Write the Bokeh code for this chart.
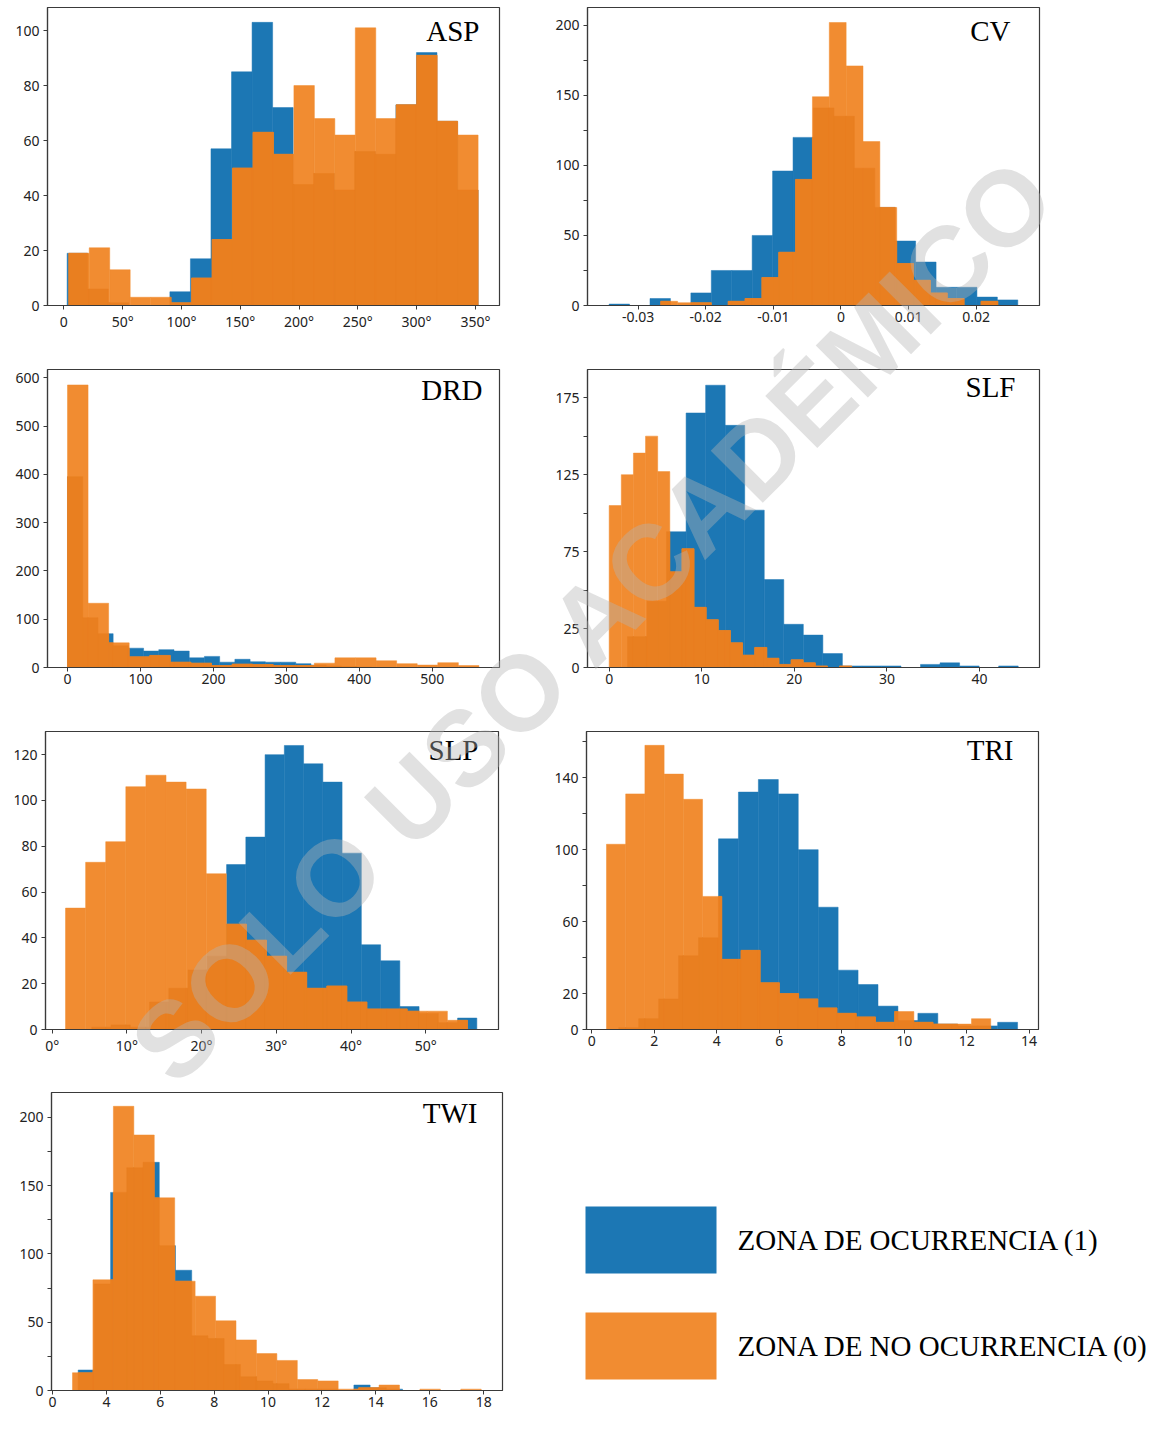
import numpy as np
from bokeh.plotting import figure
from bokeh.models import Range1d, FixedTicker, Label, GridBox
from bokeh.core.properties import value
from bokeh.embed import file_html
from bokeh.resources import INLINE

# ---------------- data (counts per bin) ----------------
PANEL_NAMES = ["ASP", "CV", "DRD", "SLF", "SLP", "TRI", "TWI"]
LEGEND_LABELS = ["ZONA DE OCURRENCIA (1)", "ZONA DE NO OCURRENCIA (0)"]
WATERMARK = "SOLO USO ACADÉMICO"

asp_blue = [19, 6, 1, 0, 0, 5, 17, 57, 85, 103, 72, 44, 48, 42, 56, 55, 73, 92, 67, 42]
asp_orange = [19, 21, 13, 3, 3, 1, 10, 24, 50, 63, 55, 80, 68, 62, 101, 68, 73, 91, 67, 62]
asp_blue_range = (2.8, 352.3)
asp_orange_range = (4.2, 352.3)

cv_blue = [1, 0, 5, 0, 9, 25, 25, 50, 96, 120, 141, 135, 98, 70, 46, 31, 13, 13, 6, 4]
cv_orange = [3, 2, 2, 0, 3, 5, 20, 38, 90, 149, 202, 171, 117, 70, 30, 18, 9, 5, 0, 3]
cv_blue_range = (-0.03428, 0.02616)
cv_orange_range = (-0.02665, 0.02321)

drd_blue = [395, 103, 70, 45, 40, 34, 37, 34, 20, 23, 11, 17, 12, 11, 11, 8, 5, 3, 2, 1]
drd_orange = [585, 133, 51, 22, 25, 11, 9, 4, 7, 6, 4, 4, 9, 20, 20, 14, 8, 5, 10, 4]
drd_blue_range = (0.0, 417.2)
drd_orange_range = (0.0, 564.0)

slf_blue = [20, 43, 88, 165, 183, 157, 102, 57, 28, 21, 9, 1, 1, 1, 0, 2, 3, 1, 0, 1]
slf_orange = [105, 125, 139, 150, 127, 62, 77, 39, 31, 24, 16, 8, 13, 6, 2, 5, 3, 1, 0, 1]
slf_blue_range = (1.98, 44.17)
slf_orange_range = (0.0, 26.19)

slp_blue = [1, 2, 1, 12, 18, 26, 32, 72, 84, 120, 124, 116, 108, 77, 37, 30, 10, 7, 3, 5]
slp_orange = [53, 73, 82, 106, 111, 108, 105, 68, 46, 39, 32, 25, 18, 19, 12, 9, 9, 8, 8, 4]
slp_blue_range = (5.31, 56.83)
slp_orange_range = (1.79, 55.58)

tri_blue = [1, 6, 17, 41, 51, 106, 132, 139, 131, 100, 68, 33, 25, 13, 5, 9, 3, 2, 2, 4]
tri_orange = [103, 131, 158, 142, 128, 74, 39, 44, 26, 20, 17, 12, 9, 7, 4, 10, 4, 3, 3, 6]
tri_blue_range = (0.864, 13.63)
tri_orange_range = (0.47, 12.77)

twi_blue = [15, 78, 145, 163, 167, 106, 88, 40, 38, 19, 10, 7, 5, 1, 1, 1, 0, 4, 2, 1]
twi_orange = [13, 81, 208, 187, 141, 80, 69, 51, 37, 27, 22, 8, 7, 1, 2, 4, 0, 1, 0, 1]
twi_blue_range = (2.95, 14.99)
twi_orange_range = (2.74, 17.91)

# tick values and labels
asp_xticks = [0, 50, 100, 150, 200, 250, 300, 350]
asp_xlabels = ["0", "50°", "100°", "150°", "200°", "250°", "300°", "350°"]
asp_yticks = [0, 20, 40, 60, 80, 100]

cv_xticks = [-0.03, -0.02, -0.01, 0, 0.01, 0.02]
cv_xlabels = ["-0.03", "-0.02", "-0.01", "0", "0.01", "0.02"]
cv_yticks = [0, 50, 100, 150, 200]
cv_yminor = [25, 75, 125, 175]

drd_xticks = [0, 100, 200, 300, 400, 500]
drd_xlabels = ["0", "100", "200", "300", "400", "500"]
drd_yticks = [0, 100, 200, 300, 400, 500, 600]

slf_xticks = [0, 10, 20, 30, 40]
slf_xlabels = ["0", "10", "20", "30", "40"]
slf_yticks = [0, 25, 75, 125, 175]
slf_yminor = [50, 100, 150]

slp_xticks = [0, 10, 20, 30, 40, 50]
slp_xlabels = ["0°", "10°", "20°", "30°", "40°", "50°"]
slp_yticks = [0, 20, 40, 60, 80, 100, 120]

tri_xticks = [0, 2, 4, 6, 8, 10, 12, 14]
tri_xlabels = ["0", "2", "4", "6", "8", "10", "12", "14"]
tri_yticks = [0, 20, 60, 100, 140]
tri_yminor = [40, 80, 120, 160]

twi_xticks = [2, 4, 6, 8, 10, 12, 14, 16, 18]
twi_xlabels = ["0", "4", "6", "8", "10", "12", "14", "16", "18"]
twi_yticks = [0, 50, 100, 150, 200]
twi_yminor = [25, 75, 125, 175]

# ---------------- styling / layout ----------------
BLUE = "#1c77b4"
ORANGE = "#f18c31"
ORANGE_DARK = "#e97f20"
SPINE = "#3a3a3a"
TICK_FONT = "Noto Sans"
SERIF = "Liberation Serif"
TOTAL_W, TOTAL_H = 1146, 1415
LEFT_W, RIGHT_W = 540, 606
ROW_H = [355, 362, 362, 336]
ROW_Y0 = [0, 355, 717, 1079]


def bin_edges(rng, n):
    return np.linspace(rng[0], rng[1], n + 1)


def make_panel(name, blue, orange, brng, orng, xr, yr, xticks, xlabels, yticks, yminor,
               width, height, bl, br, bt, bb, label_off):
    p = figure(width=width, height=height, x_range=Range1d(*xr), y_range=Range1d(*yr),
               output_backend="svg", toolbar_location=None, frame_align=False,
               min_border_left=bl, min_border_right=br, min_border_top=bt, min_border_bottom=bb)
    p.background_fill_color = "white"
    p.border_fill_color = "white"
    eb = bin_edges(brng, len(blue))
    eo = bin_edges(orng, len(orange))
    p.quad(left=eb[:-1], right=eb[1:], bottom=0, top=blue,
           fill_color=BLUE, line_color=BLUE, line_width=0.5)
    p.quad(left=eo[:-1], right=eo[1:], bottom=0, top=orange,
           fill_color=ORANGE, line_color=ORANGE, line_width=0.5)
    L, R, T = [], [], []
    for i in range(len(blue)):
        for j in range(len(orange)):
            lft = max(eb[i], eo[j])
            rgt = min(eb[i + 1], eo[j + 1])
            top = min(blue[i], orange[j])
            if rgt > lft and top > 0:
                L.append(lft)
                R.append(rgt)
                T.append(top)
    p.quad(left=L, right=R, bottom=0, top=T,
           fill_color=ORANGE_DARK, line_color=ORANGE_DARK, line_width=0.5)

    p.grid.visible = False
    p.outline_line_color = SPINE
    p.outline_line_width = 1.2

    p.xaxis.ticker = FixedTicker(ticks=xticks)
    p.xaxis.major_label_overrides = {t: s for t, s in zip(xticks, xlabels)}
    p.yaxis.ticker = FixedTicker(ticks=yticks, minor_ticks=yminor)
    for ax in (p.xaxis[0], p.yaxis[0]):
        ax.axis_line_color = SPINE
        ax.axis_line_width = 1.2
        ax.major_tick_line_color = SPINE
        ax.major_tick_out = 4
        ax.major_tick_in = 0
        ax.minor_tick_line_color = SPINE
        ax.minor_tick_out = 4
        ax.minor_tick_in = 0
        ax.major_label_text_font = TICK_FONT
        ax.major_label_text_font_size = "14px"
        ax.major_label_text_color = "#222222"
    p.xaxis.major_label_standoff = 2
    p.yaxis.major_label_standoff = 4

    ro, bo = label_off
    p.add_layout(Label(x=xr[1], y=yr[1], x_offset=-ro, y_offset=-(bo - 11), text=name,
                       text_align="right", text_baseline="alphabetic",
                       text_font=SERIF, text_font_size="29px", text_color="black"))
    return p


p_asp = make_panel(PANEL_NAMES[0], asp_blue, asp_orange, asp_blue_range, asp_orange_range,
                   (-13.9, 370.5), (0, 108.4), asp_xticks, asp_xlabels, asp_yticks, [],
                   LEFT_W, ROW_H[0], 47, 41, 7, 50, (20, 34))
p_cv = make_panel(PANEL_NAMES[1], cv_blue, cv_orange, cv_blue_range, cv_orange_range,
                  (-0.03748, 0.02937), (0, 212.7), cv_xticks, cv_xlabels, cv_yticks, cv_yminor,
                  RIGHT_W, ROW_H[0], 47, 107, 7, 50, (29, 34))
p_drd = make_panel(PANEL_NAMES[2], drd_blue, drd_orange, drd_blue_range, drd_orange_range,
                   (-27.4, 592.2), (0, 617), drd_xticks, drd_xlabels, drd_yticks, [],
                   LEFT_W, ROW_H[1], 47, 41, 14, 50, (17, 31))
p_slf = make_panel(PANEL_NAMES[3], slf_blue, slf_orange, slf_blue_range, slf_orange_range,
                   (-2.34, 46.47), (0, 193.2), slf_xticks, slf_xlabels, slf_yticks, slf_yminor,
                   RIGHT_W, ROW_H[1], 47, 107, 14, 50, (24, 28))
p_slp = make_panel(PANEL_NAMES[4], slp_blue, slp_orange, slp_blue_range, slp_orange_range,
                   (-0.89, 59.73), (0, 130.1), slp_xticks, slp_xlabels, slp_yticks, [],
                   LEFT_W, ROW_H[2], 45, 42, 14, 50, (20, 29))
p_tri = make_panel(PANEL_NAMES[5], tri_blue, tri_orange, tri_blue_range, tri_orange_range,
                   (-0.17, 14.3), (0, 165.7), tri_xticks, tri_xlabels, tri_yticks, tri_yminor,
                   RIGHT_W, ROW_H[2], 46, 108, 14, 50, (25, 29))
p_twi = make_panel(PANEL_NAMES[6], twi_blue, twi_orange, twi_blue_range, twi_orange_range,
                   (1.96, 18.70), (0, 218.1), twi_xticks, twi_xlabels, twi_yticks, twi_yminor,
                   LEFT_W, ROW_H[3], 51, 38, 13, 25, (25, 31))

# ---------------- legend panel (pixel coordinates) ----------------
p_leg = figure(width=RIGHT_W, height=ROW_H[3], x_range=Range1d(0, RIGHT_W), y_range=Range1d(0, ROW_H[3]),
               output_backend="svg", toolbar_location=None, frame_align=False,
               x_axis_location=None, y_axis_location=None,
               min_border_left=0, min_border_right=0, min_border_top=0, min_border_bottom=0)
p_leg.grid.visible = False
p_leg.outline_line_color = None
p_leg.background_fill_color = "white"
p_leg.border_fill_color = "white"
leg_colors = [BLUE, ORANGE]
leg_box_top = [ROW_H[3] - (1206 - ROW_Y0[3]), ROW_H[3] - (1312 - ROW_Y0[3])]
leg_box_h = 67
p_leg.quad(left=[45, 45], right=[176, 176], top=leg_box_top,
           bottom=[t - leg_box_h for t in leg_box_top], fill_color=leg_colors, line_color=None)
p_leg.text(x=[197, 197], y=[t - leg_box_h / 2 for t in leg_box_top], text=LEGEND_LABELS,
           text_font=value(SERIF), text_font_size="29px", text_color="black",
           text_align="left", text_baseline="middle")

# ---------------- watermark overlay spanning the whole page ----------------
p_wm = figure(width=TOTAL_W, height=TOTAL_H, x_range=Range1d(0, TOTAL_W), y_range=Range1d(0, TOTAL_H),
              output_backend="svg", toolbar_location=None, frame_align=False,
              x_axis_location=None, y_axis_location=None,
              min_border_left=0, min_border_right=0, min_border_top=0, min_border_bottom=0)
p_wm.grid.visible = False
p_wm.outline_line_color = None
p_wm.background_fill_color = None
p_wm.border_fill_color = None
p_wm.add_layout(Label(x=593, y=TOTAL_H - 619, text=WATERMARK, angle=45, angle_units="deg",
                      text_align="center", text_baseline="middle",
                      text_font="Liberation Sans", text_font_style="bold",
                      text_font_size="107px", text_color="#b4b4b4", text_alpha=0.4))

layout = GridBox(children=[(p_asp, 0, 0), (p_cv, 0, 1),
                           (p_drd, 1, 0), (p_slf, 1, 1),
                           (p_slp, 2, 0), (p_tri, 2, 1),
                           (p_twi, 3, 0), (p_leg, 3, 1),
                           (p_wm, 0, 0, 4, 2)], spacing=0)

open("out.html", "w").write(file_html(layout, INLINE))
